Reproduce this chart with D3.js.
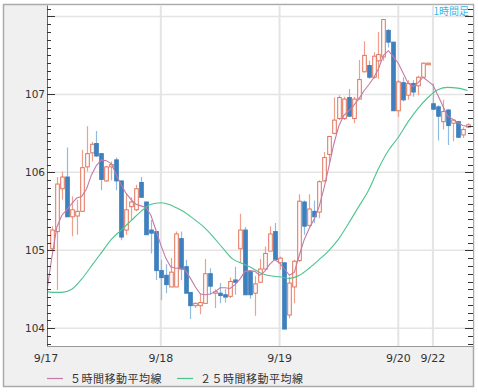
<!DOCTYPE html>
<html><head><meta charset="utf-8">
<script src="https://cdn.jsdelivr.net/npm/d3@7"></script>
<style>html,body{margin:0;padding:0;background:#fff;}svg{display:block;}</style>
</head><body><svg id="c" width="478" height="392"></svg>
<script>
// candle index 1..85 (hourly)
const openP = [105.02,105.24,105.79,105.94,105.43,105.44,105.50,106.07,106.25,106.37,
106.24,105.89,106.07,106.16,105.89,105.26,105.56,105.52,105.87,105.62,
105.26,105.24,104.74,104.68,104.53,104.53,105.15,104.79,104.46,104.29,
104.29,104.32,104.70,104.45,104.45,104.43,104.41,104.62,105.02,105.26,
104.73,104.45,104.59,104.76,104.99,105.24,104.84,104.84,104.17,104.53,
104.87,105.62,105.32,105.50,105.49,105.89,106.23,106.50,106.69,106.69,
106.96,106.69,106.94,107.29,107.37,107.22,107.43,107.48,107.82,107.67,
106.79,107.15,106.99,107.14,107.11,107.22,107.38,106.88,106.84,106.65,
106.80,106.63,106.65,106.48,106.58];
const highP = [105.31,105.94,106.01,106.32,105.69,105.65,106.29,106.59,106.39,106.53,
106.24,106.08,106.14,106.19,105.89,105.72,105.68,105.84,105.94,105.62,
105.39,105.24,104.88,104.82,104.90,105.24,105.24,104.88,104.46,104.33,
104.45,104.89,104.77,104.50,104.58,104.50,104.65,104.79,105.47,105.30,
104.73,104.67,104.89,105.05,105.31,105.35,104.92,104.84,104.66,104.88,
105.72,105.64,105.72,105.64,105.90,106.26,106.47,106.96,106.99,106.97,
107.07,106.97,107.44,107.68,107.43,107.54,107.80,107.96,107.84,107.67,
107.18,107.22,107.18,107.18,107.24,107.41,107.41,107.14,106.86,106.93,
106.81,106.68,106.66,106.58,106.63];
const lowP = [105.00,104.49,105.65,105.43,105.18,105.20,105.50,106.01,106.14,106.20,
105.77,105.88,105.90,105.77,105.13,105.20,105.39,105.50,105.68,105.20,
104.96,104.62,104.36,104.45,104.53,104.53,104.62,104.45,104.12,104.26,
104.18,104.32,104.43,104.26,104.32,104.33,104.39,104.43,104.84,104.43,
104.38,104.16,104.59,104.76,104.99,104.88,104.75,103.99,104.13,104.32,
104.85,105.20,105.30,105.35,105.41,105.88,106.13,106.49,106.67,106.67,
106.71,106.63,106.94,107.28,107.20,107.20,107.20,107.43,107.60,106.79,
106.71,106.91,106.93,106.97,106.99,107.22,107.38,106.80,106.41,106.55,
106.35,106.40,106.44,106.44,106.57];
const closeP = [105.26,105.85,105.94,105.43,105.52,105.50,106.06,106.24,106.36,106.21,
105.91,106.07,106.10,105.89,105.17,105.52,105.62,105.79,105.68,105.20,
105.22,104.74,104.65,104.56,104.72,105.21,104.76,104.45,104.29,104.32,
104.33,104.70,104.54,104.47,104.42,104.40,104.60,104.59,105.26,104.43,
104.43,104.57,104.76,104.96,105.21,104.88,104.90,103.99,104.58,104.86,
105.63,105.31,105.53,105.43,105.88,106.19,106.46,106.67,106.96,106.94,
106.72,106.94,107.19,107.50,107.22,107.49,107.51,107.96,107.67,106.79,
107.16,106.93,107.14,107.03,107.22,107.40,107.40,106.81,106.72,106.78,
106.60,106.67,106.45,106.55,106.61];

// 5-hour moving average, read at candle positions 0..85
const ma5 = [104.49,104.92,105.30,105.45,105.52,105.60,105.67,105.69,105.79,105.97,
106.09,106.16,106.15,106.11,105.97,105.84,105.73,105.65,105.59,105.57,
105.55,105.45,105.26,105.07,104.90,104.79,104.77,104.77,104.74,104.64,
104.53,104.44,104.43,104.44,104.47,104.52,104.52,104.51,104.56,104.63,
104.73,104.74,104.73,104.68,104.73,104.82,104.88,104.84,104.76,104.68,
104.72,104.94,105.14,105.28,105.40,105.56,105.80,106.08,106.37,106.60,
106.73,106.79,106.86,106.94,107.04,107.12,107.21,107.33,107.50,107.56,
107.48,107.40,107.27,107.14,107.10,107.15,107.22,107.17,107.12,106.99,
106.85,106.72,106.68,106.64,106.60,106.59];

// 25-hour moving average, read at these candle positions
const ma25Pos = [0,1,3,5,7,9,11,13,15,17,19,21,23,25,26,27.5,29.5,31.5,33.5,35.5,37.5,39.5,41.5,43.5,45.5,47,49,51,53,55,57,59,61,63,65,67,69,71,73,75,77,79,81,83,85];
const ma25 = [104.47,104.46,104.46,104.50,104.63,104.80,104.97,105.14,105.26,105.38,105.50,105.59,105.61,105.58,105.55,105.50,105.41,105.31,105.18,105.03,104.89,104.83,104.77,104.70,104.67,104.66,104.64,104.68,104.77,104.88,105.00,105.15,105.35,105.56,105.77,106.05,106.28,106.45,106.65,106.82,106.96,107.06,107.09,107.08,107.05];

const dayLabels = ["9/17","9/18","9/19","9/20","9/22"];
const dayPos = [0,23,47,71,78];
const yLabels = [104,105,106,107];
const legendNames = ["５時間移動平均線","２５時間移動平均線"];
const periodLabel = "1時間足";

const svg = d3.select("#c");
const L = 47, R = 473, T = 5.5, B = 347;
const x = d3.scaleLinear().domain([0, 86.1]).range([L, R]);
const y = d3.scaleLinear().domain([103.76, 108.14]).range([B, T]);

// outer frame
svg.append("rect").attr("x",3.5).attr("y",4.5).attr("width",470).attr("height",382)
  .attr("fill","#f0f0f0").attr("stroke","#aaaaaa").attr("stroke-width",1.5);
svg.append("rect").attr("x",L).attr("y",T).attr("width",R-L).attr("height",B-T).attr("fill","#fff");

svg.append("defs").append("clipPath").attr("id","clip").append("rect")
  .attr("x",L).attr("y",T).attr("width",R-L).attr("height",B-T);

// grid
const grid = svg.append("g");
[104,105,106,107,108].forEach(v=>{
  grid.append("line").attr("x1",L).attr("x2",R).attr("y1",y(v)).attr("y2",y(v))
    .attr("stroke","#e4e4e4").attr("stroke-width",1.5);
});
dayPos.slice(1).forEach(p=>{
  grid.append("line").attr("x1",x(p)).attr("x2",x(p)).attr("y1",T).attr("y2",B)
    .attr("stroke","#e4e4e4").attr("stroke-width",2);
});

// candles
const g = svg.append("g").attr("clip-path","url(#clip)");
const idx = d3.range(openP.length);
const bw = 3.6;
idx.forEach(k=>{
  const i = k+1, up = closeP[k] >= openP[k];
  const cx = Math.round(x(i))+0.5;
  g.append("line").attr("x1",cx).attr("x2",cx).attr("y1",y(highP[k])).attr("y2",y(lowP[k]))
    .attr("stroke", up ? "#eea08c" : "#93bbdf").attr("stroke-width",1.2);
  const top = y(Math.max(openP[k],closeP[k])), bot = y(Math.min(openP[k],closeP[k]));
  g.append("rect").attr("x",cx-bw/2).attr("y",top).attr("width",bw).attr("height",Math.max(bot-top,1))
    .attr("fill", up ? "#fff" : "#3f80be")
    .attr("stroke", up ? "#e2735a" : "#3f80be").attr("stroke-width",1);
});

// moving averages
g.append("path").datum(ma25Pos.map((p,j)=>[p,ma25[j]]))
  .attr("d", d3.line().x(d=>x(d[0])).y(d=>y(d[1])).curve(d3.curveMonotoneX))
  .attr("fill","none").attr("stroke","#4cc48e").attr("stroke-width",1.1);
g.append("path").datum(ma5.map((v,j)=>[j,v]))
  .attr("d", d3.line().x(d=>x(d[0])).y(d=>y(d[1])))
  .attr("fill","none").attr("stroke","#c47aa4").attr("stroke-width",1.1);

// axes
const yTicks = d3.range(103.8, 108.15, 0.1).map(v=>+v.toFixed(1));
const ax = svg.append("g");
ax.append("line").attr("x1",L+0.5).attr("x2",L+0.5).attr("y1",T).attr("y2",B).attr("stroke","#666");
ax.append("line").attr("x1",L).attr("x2",R).attr("y1",B-0.5).attr("y2",B-0.5).attr("stroke","#999");
yTicks.forEach(v=>{
  const major = Math.abs(v-Math.round(v))<1e-6;
  const yy = Math.round(y(v))+0.5;
  ax.append("line").attr("x1",L).attr("x2",L+(major?8:4)).attr("y1",yy).attr("y2",yy).attr("stroke","#333");
  ax.append("line").attr("x1",R).attr("x2",R-(major?8:5)).attr("y1",yy).attr("y2",yy).attr("stroke","#333");
});
yLabels.forEach(v=>{
  ax.append("text").attr("x",45).attr("y",y(v)+4).attr("text-anchor","end")
    .attr("font-family","DejaVu Sans").attr("font-size",10.5).attr("fill","#333").text(v);
});
dayLabels.forEach((t,j)=>{
  ax.append("text").attr("x",j===0?46:x(dayPos[j])).attr("y",362).attr("text-anchor","middle")
    .attr("font-family","DejaVu Sans").attr("font-size",11).attr("fill","#333").text(t);
});

// period label
svg.append("text").attr("x",469).attr("y",15).attr("text-anchor","end")
  .attr("font-family","Noto Sans CJK JP").attr("font-size",10).attr("fill","#3ab6ea").text(periodLabel);

// legend
const lg = svg.append("g");
const lcol = ["#c47aa4","#4cc48e"], lx = [47,177];
legendNames.forEach((n,j)=>{
  lg.append("line").attr("x1",lx[j]).attr("x2",lx[j]+16).attr("y1",378.5).attr("y2",378.5)
    .attr("stroke",lcol[j]).attr("stroke-width",1.2);
  lg.append("text").attr("x",lx[j]+23).attr("y",382.5).attr("font-family","Noto Sans CJK JP")
    .attr("font-size",11).attr("letter-spacing",0.5).attr("fill","#333").text(n);
});
</script></body></html>
